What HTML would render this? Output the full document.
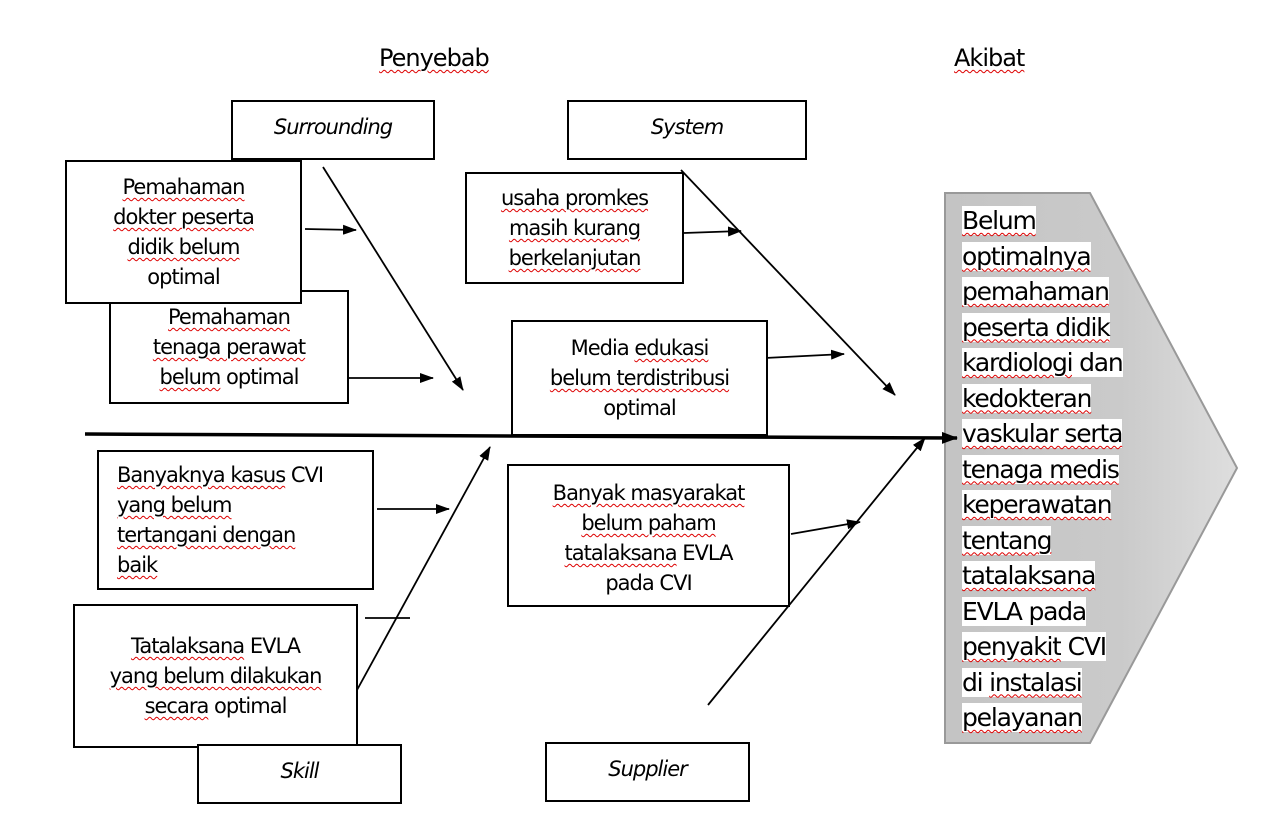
<!DOCTYPE html>
<html><head><meta charset="utf-8"><style>
body{margin:0;width:1280px;height:836px;background:#fff;position:relative;overflow:hidden;font-family:"DejaVu Sans","Liberation Sans",sans-serif;}
.b{position:absolute;border:2px solid #000;background:#fff;box-sizing:border-box;display:flex;align-items:center;justify-content:center;text-align:center;font-size:21px;line-height:30px;letter-spacing:-1px;color:#000;}
.i{font-style:italic;}
.t{position:absolute;font-size:24px;letter-spacing:-1px;}
.w{text-decoration:underline wavy #d00;text-decoration-thickness:1px;text-underline-offset:3px;}
svg{position:absolute;left:0;top:0;}
.r{position:absolute;left:962px;top:203px;font-size:25px;line-height:35.5px;letter-spacing:-1.2px;}
.r span{background:#fff;}
</style></head><body>
<svg width="1280" height="836">
<defs>
<linearGradient id="g" x1="0" x2="1" y1="0" y2="0"><stop offset="0" stop-color="#c4c4c4"/><stop offset="0.6" stop-color="#cacaca"/><stop offset="1" stop-color="#dedede"/></linearGradient>
<marker id="a" markerWidth="14" markerHeight="10" refX="13" refY="5" orient="auto" markerUnits="userSpaceOnUse"><path d="M0,0L14,5L0,10z" fill="#000"/></marker>
<marker id="A" markerWidth="16" markerHeight="12" refX="15" refY="6" orient="auto" markerUnits="userSpaceOnUse"><path d="M0,0L16,6L0,12z" fill="#000"/></marker>
</defs>
<polygon points="945,193 1090,193 1237,468 1090,743 945,743" fill="url(#g)" stroke="#999" stroke-width="2"/>
<g stroke="#000" stroke-width="1.8" fill="none">
<line x1="323" y1="167" x2="463" y2="390" marker-end="url(#a)"/>
<line x1="305" y1="229" x2="356" y2="230" marker-end="url(#a)"/>
<line x1="349" y1="378" x2="433" y2="378" marker-end="url(#a)"/>
<line x1="681" y1="170" x2="895" y2="395" marker-end="url(#a)"/>
<line x1="684" y1="233" x2="741" y2="231" marker-end="url(#a)"/>
<line x1="765" y1="358" x2="844" y2="354" marker-end="url(#a)"/>
<line x1="377" y1="509" x2="449" y2="509" marker-end="url(#a)"/>
<line x1="357" y1="690" x2="490" y2="447" marker-end="url(#a)"/>
<line x1="365" y1="618" x2="410" y2="618"/>
<line x1="708" y1="705" x2="925" y2="438" marker-end="url(#a)"/>
<line x1="791" y1="534" x2="860" y2="522" marker-end="url(#a)"/>
</g>
<line x1="85" y1="434" x2="957" y2="438" stroke="#000" stroke-width="3.5" marker-end="url(#A)"/>
</svg>
<div class="t w" style="left:379px;top:44px">Penyebab</div>
<div class="t w" style="left:954px;top:44px">Akibat</div>
<div class="b i" style="left:231px;top:100px;width:204px;height:60px;align-items:flex-start;padding-top:10px">Surrounding</div>
<div class="b i" style="left:567px;top:100px;width:240px;height:60px;align-items:flex-start;padding-top:10px">System</div>
<div class="b" style="left:109px;top:290px;width:240px;height:114px;padding-top:10px;align-items:flex-start"><div><span class="w">Pemahaman</span><br><span class="w">tenaga perawat</span><br><span class="w">belum</span> optimal</div></div>
<div class="b" style="left:65px;top:160px;width:237px;height:144px"><div><span class="w">Pemahaman</span><br><span class="w">dokter peserta</span><br><span class="w">didik belum</span><br>optimal</div></div>
<div class="b" style="left:465px;top:172px;width:219px;height:112px"><div><span class="w">usaha promkes</span><br><span class="w">masih kurang</span><br><span class="w">berkelanjutan</span></div></div>
<div class="b" style="left:511px;top:320px;width:257px;height:116px"><div>Media <span class="w">edukasi</span><br><span class="w">belum terdistribusi</span><br>optimal</div></div>
<div class="b" style="left:97px;top:450px;width:277px;height:140px;justify-content:flex-start;text-align:left;padding-left:18px"><div><span class="w">Banyaknya kasus</span> CVI<br><span class="w">yang belum</span><br><span class="w">tertangani dengan</span><br><span class="w">baik</span></div></div>
<div class="b" style="left:507px;top:464px;width:283px;height:143px;align-items:flex-start;padding-top:12px"><div><span class="w">Banyak masyarakat</span><br><span class="w">belum paham</span><br><span class="w">tatalaksana</span> EVLA<br>pada CVI</div></div>
<div class="b" style="left:73px;top:604px;width:285px;height:144px"><div><span class="w">Tatalaksana</span> EVLA<br><span class="w">yang belum dilakukan</span><br><span class="w">secara</span> optimal</div></div>
<div class="b i" style="left:197px;top:744px;width:205px;height:60px;align-items:flex-start;padding-top:10px">Skill</div>
<div class="b i" style="left:545px;top:742px;width:205px;height:60px;align-items:flex-start;padding-top:10px">Supplier</div>
<div class="r"><span class="w">Belum</span><br><span class="w">optimalnya</span><br><span class="w">pemahaman</span><br><span class="w">peserta didik</span><br><span class="w">kardiologi</span><span> dan</span><br><span class="w">kedokteran</span><br><span class="w">vaskular serta</span><br><span class="w">tenaga medis</span><br><span class="w">keperawatan</span><br><span class="w">tentang</span><br><span class="w">tatalaksana</span><br><span>EVLA pada</span><br><span class="w">penyakit</span><span> CVI </span><br><span>di</span><span> </span><span class="w">instalasi</span><br><span class="w">pelayanan</span></div>
</body></html>
